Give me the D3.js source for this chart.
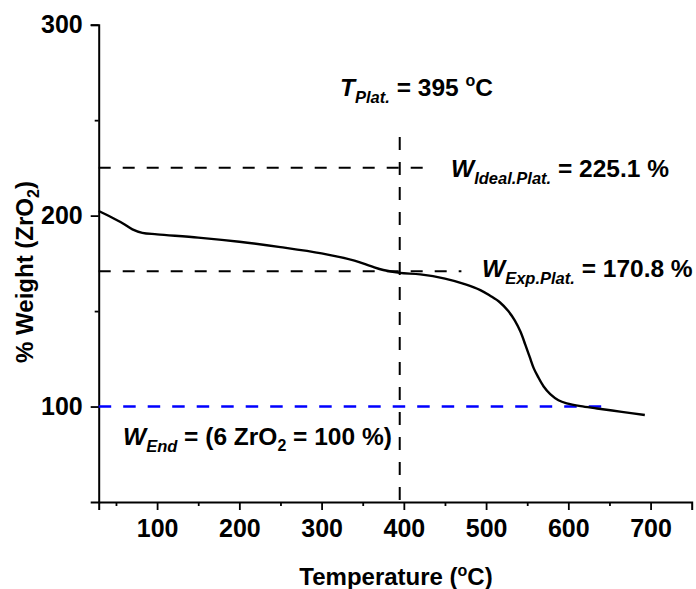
<!DOCTYPE html>
<html>
<head>
<meta charset="utf-8">
<script src="https://cdn.jsdelivr.net/npm/d3@7"></script>
<style>
  html, body { margin: 0; padding: 0; background: #fff; }
  svg text { font-family: "Liberation Sans", Arial, sans-serif; font-weight: bold; fill: #000; }
</style>
</head>
<body>
<svg id="chart" width="696" height="589"></svg>
<script>
// TGA trace: temperature (°C) and residual weight relative to ZrO2 (%)
const temperature = [29, 45, 58, 70, 82, 100, 150, 200, 250, 300, 340, 360, 375, 395, 420, 450, 475, 493, 505, 517, 527, 535, 542, 548, 553, 558, 563, 570, 578, 588, 598, 615, 635, 665, 693];
const weight      = [202.4, 199, 196, 192.8, 191, 190.2, 188.5, 186.3, 183.5, 180.2, 176.4, 173.5, 171.5, 170, 169.2, 167, 164, 161, 158, 154.5, 150, 145, 139, 132, 126, 120, 115.7, 110.5, 106.5, 103.3, 101.7, 100.2, 99, 97.2, 95.6];

// reference levels
const plateauTemp = 395;
const idealPlateau = 225.1;
const expPlateau = 170.8;
const endWeight = 100;

// axis ticks
const xMajorTicks = [100, 200, 300, 400, 500, 600, 700];
const xMinorTicks = [50, 150, 250, 350, 450, 550, 650];
const yMajorTicks = [100, 200, 300];
const yMinorTicks = [150, 250];

const svg = d3.select("#chart");
const x = d3.scaleLinear().domain([29, 750]).range([98.7, 691.7]);
const y = d3.scaleLinear().domain([50, 300]).range([502, 24.7]);

// axes
const xAxisG = svg.append("g").attr("transform", `translate(0,${y(50)})`);
xAxisG.call(d3.axisBottom(x).tickValues(xMinorTicks).tickSize(4).tickFormat(""));
xAxisG.call(g => g.select(".domain").remove());
svg.append("g").attr("transform", `translate(0,${y(50)})`)
  .call(d3.axisBottom(x).tickValues(xMajorTicks).tickSizeOuter(0).tickSize(8).tickPadding(9).tickFormat(d3.format("d")));

const yAxisG = svg.append("g").attr("transform", `translate(${x(29)},0)`);
yAxisG.call(d3.axisLeft(y).tickValues(yMinorTicks).tickSize(4).tickFormat(""));
yAxisG.call(g => g.select(".domain").remove());
svg.append("g").attr("transform", `translate(${x(29)},0)`)
  .call(d3.axisLeft(y).tickValues(yMajorTicks).tickSizeOuter(0).tickSize(8).tickPadding(8).tickFormat(d3.format("d")));

svg.selectAll(".domain").attr("stroke", "#000").attr("stroke-width", 2);
svg.selectAll(".tick line").attr("stroke", "#000").attr("stroke-width", 1.8);
svg.selectAll(".tick text").style("font-size", "25px").attr("fill", "#000");

// axis titles
const xt = svg.append("text").attr("x", 396).attr("y", 585).attr("text-anchor", "middle").style("font-size", "24px");
xt.append("tspan").text("Temperature (");
xt.append("tspan").text("o").style("font-size", "16px").attr("dy", -9);
xt.append("tspan").text("C)").attr("dy", 9);

const yt = svg.append("text").attr("transform", "translate(33,272) rotate(-90)").attr("text-anchor", "middle").style("font-size", "24px");
yt.append("tspan").text("% Weight (ZrO");
yt.append("tspan").text("2").style("font-size", "16px").attr("dy", 6);
yt.append("tspan").text(")").attr("dy", -6);

// reference lines
const dash = "12,12";
svg.append("line")
  .attr("x1", x(29)).attr("x2", x(430)).attr("y1", y(idealPlateau)).attr("y2", y(idealPlateau))
  .attr("stroke", "#000").attr("stroke-width", 2).attr("stroke-dasharray", dash);
svg.append("line")
  .attr("x1", x(29)).attr("x2", x(470)).attr("y1", y(expPlateau)).attr("y2", y(expPlateau))
  .attr("stroke", "#000").attr("stroke-width", 2).attr("stroke-dasharray", dash);
svg.append("line")
  .attr("x1", x(plateauTemp)).attr("x2", x(plateauTemp)).attr("y1", 137).attr("y2", y(50))
  .attr("stroke", "#000").attr("stroke-width", 2).attr("stroke-dasharray", "13,12");
svg.append("line")
  .attr("x1", x(29)).attr("x2", x(640)).attr("y1", y(endWeight)).attr("y2", y(endWeight))
  .attr("stroke", "#0000ff").attr("stroke-width", 2.6).attr("stroke-dasharray", "12.5,12");

// TGA curve
const line = d3.line().x((d, i) => x(temperature[i])).y(d => y(d)).curve(d3.curveCatmullRom.alpha(0.5));
svg.append("path").datum(weight).attr("d", line)
  .attr("fill", "none").attr("stroke", "#000").attr("stroke-width", 2.4);

// annotations: italic symbol with italic subscript, then plain text
function label(xp, yp, main, sub) {
  const t = svg.append("text").attr("x", xp).attr("y", yp).style("font-size", "24.5px");
  t.append("tspan").text(main).style("font-style", "italic");
  t.append("tspan").text(sub).style("font-style", "italic").style("font-size", "16.5px").attr("dy", 7);
  const r = t.append("tspan").attr("dy", -7);
  return { t, r };
}
const a1 = label(340, 96, "T", "Plat.");
a1.r.text(" = 395 ");
a1.t.append("tspan").text("o").style("font-size", "16px").attr("dy", -10);
a1.t.append("tspan").text("C").attr("dy", 10);

const a2 = label(451, 177, "W", "Ideal.Plat.");
a2.r.text(" = 225.1 %");

const a3 = label(482, 276.5, "W", "Exp.Plat.");
a3.r.text(" = 170.8 %");

const a4 = label(123, 445, "W", "End");
a4.r.text(" = (6 ZrO");
a4.t.append("tspan").text("2").style("font-size", "16px").attr("dy", 6);
a4.t.append("tspan").text(" = 100 %)").attr("dy", -6);
</script>
</body>
</html>
